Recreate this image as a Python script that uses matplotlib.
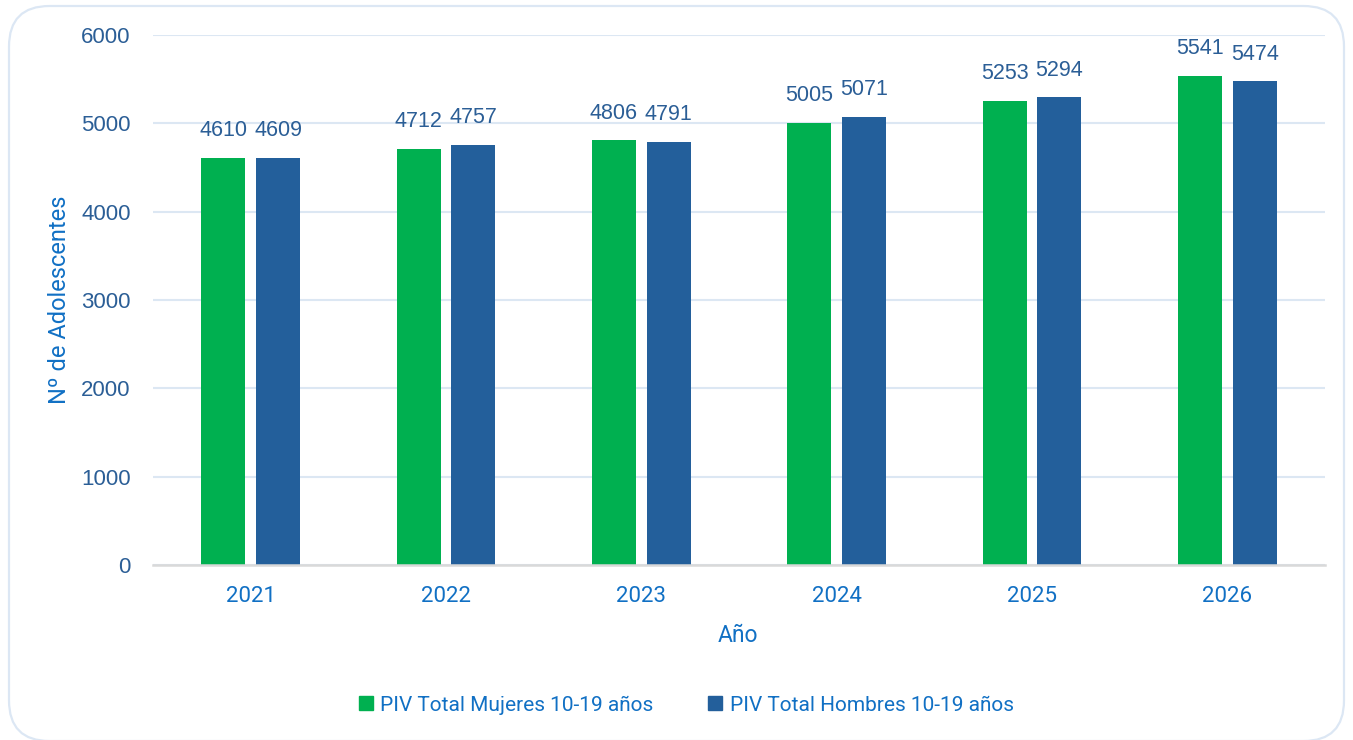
import matplotlib
matplotlib.use("Agg")
import matplotlib.pyplot as plt
from matplotlib import font_manager
from matplotlib.patches import FancyBboxPatch
from matplotlib.lines import Line2D
import numpy as np

years = ["2021", "2022", "2023", "2024", "2025", "2026"]
mujeres = [4610, 4712, 4806, 5005, 5253, 5541]
hombres = [4609, 4757, 4791, 5071, 5294, 5474]
series_names = ["PIV Total Mujeres 10-19 años", "PIV Total Hombres 10-19 años"]
y_ticks = [0, 1000, 2000, 3000, 4000, 5000, 6000]


def pick_font(candidates):
    available = {f.name for f in font_manager.fontManager.ttflist}
    for name in candidates:
        if name in available:
            return name
    return "DejaVu Sans"


num_font = pick_font(["Liberation Sans", "Arial"])
text_font = pick_font(["Liberation Sans Narrow", "Roboto", "Liberation Sans"])

GREEN = "#00B050"
BLUE = "#235F9B"
NUM_COLOR = "#2B5E96"
TEXT_COLOR = "#1170C4"
GRID_COLOR = "#DCE7F3"

fig = plt.figure(figsize=(13.53, 7.40), dpi=100)
fig.patch.set_facecolor("white")

# rounded chart frame
frame = FancyBboxPatch((9 / 1353, -1 / 740), 1335 / 1353, 735 / 740,
                       boxstyle="round,pad=0,rounding_size=0.03",
                       transform=fig.transFigure, facecolor="none",
                       edgecolor="#DCE7F4", linewidth=1.6,
                       mutation_aspect=1353 / 740)
fig.patches.append(frame)

ax = fig.add_axes([153 / 1353, 1 - 565 / 740, 1172 / 1353, 530 / 740])
x = np.arange(len(years))
width = 0.225
offset = 0.14

b1 = ax.bar(x - offset, mujeres, width, color=GREEN, zorder=3)
b2 = ax.bar(x + offset, hombres, width, color=BLUE, zorder=3)

for bars, vals in ((b1, mujeres), (b2, hombres)):
    for rect, v in zip(bars, vals):
        ax.annotate(f"{v}", (rect.get_x() + rect.get_width() / 2, v),
                    xytext=(0, 12), textcoords="offset points",
                    ha="center", va="bottom", fontsize=15.5,
                    family=num_font, color=NUM_COLOR)

ax.set_xlim(-0.5, len(years) - 0.5)
ax.set_ylim(0, 6000)
ax.set_yticks(y_ticks)
ax.set_xticks(x)
ax.set_xticklabels(years)

ax.yaxis.grid(True, color=GRID_COLOR, linewidth=1.5, zorder=0)
ax.xaxis.grid(False)
for s in ("top", "right", "left"):
    ax.spines[s].set_visible(False)
ax.spines["bottom"].set_color("#D9D9D9")
ax.spines["bottom"].set_linewidth(1.8)
ax.spines["bottom"].set_zorder(4)

ax.tick_params(axis="both", length=0)
ax.tick_params(axis="y", pad=16)
ax.tick_params(axis="x", pad=15)
for lab in ax.get_yticklabels():
    lab.set_fontsize(16)
    lab.set_family(num_font)
    lab.set_color(NUM_COLOR)
for lab in ax.get_xticklabels():
    lab.set_fontsize(16)
    lab.set_family(text_font)
    lab.set_color(TEXT_COLOR)

fig.text(738 / 1353, 1 - 635 / 740, "Año", ha="center", va="center",
         fontsize=16.5, family=text_font, color=TEXT_COLOR)
fig.text(60 / 1353, 1 - 300 / 740, "Nº de Adolescentes", ha="center",
         va="center", rotation=90, fontsize=17, family=text_font,
         color=TEXT_COLOR)

handles = [Line2D([], [], marker="s", linestyle="none", markersize=10,
                  markerfacecolor=GREEN, markeredgecolor=GREEN),
           Line2D([], [], marker="s", linestyle="none", markersize=10,
                  markerfacecolor=BLUE, markeredgecolor=BLUE)]
leg = fig.legend(handles, series_names, loc="center",
                 bbox_to_anchor=(686 / 1353, 1 - 705 / 740), ncol=2,
                 frameon=False, handlelength=0.7, handletextpad=0.35,
                 columnspacing=2.6,
                 prop={"family": text_font, "size": 15})
for t in leg.get_texts():
    t.set_color(TEXT_COLOR)

fig.savefig("out.png", dpi=100, facecolor="white")
